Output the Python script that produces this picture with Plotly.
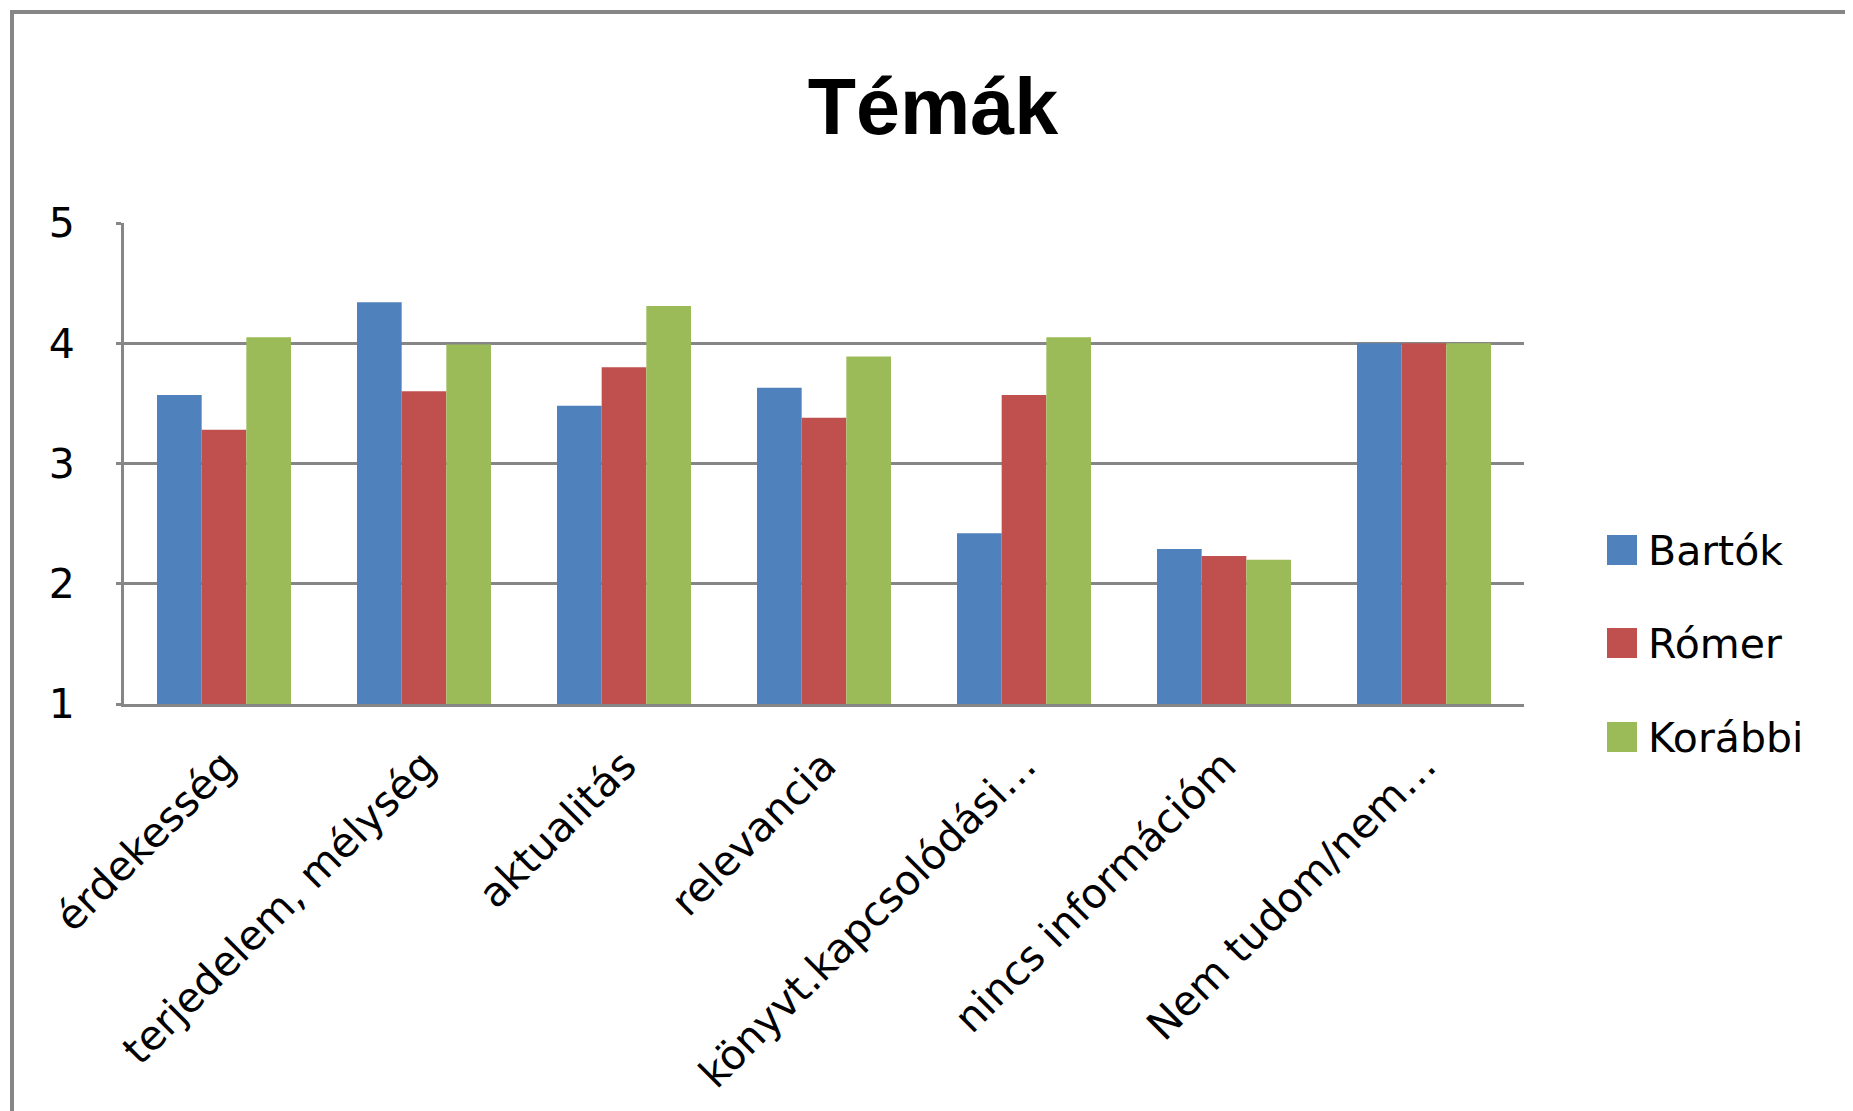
import plotly.graph_objects as go

categories = ["érdekesség", "terjedelem, mélység", "aktualitás", "relevancia",
              "könyvt.kapcsolódási…", "nincs információm", "Nem tudom/nem…"]
bartok = [3.57, 4.34, 3.48, 3.63, 2.42, 2.29, 4.0]
romer = [3.28, 3.60, 3.80, 3.38, 3.57, 2.23, 4.0]
korabbi = [4.05, 3.99, 4.31, 3.89, 4.05, 2.20, 4.0]

series_names = ["Bartók", "Rómer", "Korábbi"]
series_colors = ["#4F81BD", "#C0504D", "#9BBB59"]
y_ticks = [1, 2, 3, 4, 5]

W, H = 1853, 1111
OFF = 8  # page body margin
PLOT_L, PLOT_R, PLOT_T, PLOT_B = 124 - OFF, 1524 - OFF, 223 - OFF, 704 - OFF
GRID = "#868686"
LABEL_FONT = dict(family="DejaVu Sans", size=41, color="black")


def px_x(x):
    return (x - OFF - PLOT_L) / (PLOT_R - PLOT_L)


def px_y(y):
    return (PLOT_B - (y - OFF)) / (PLOT_B - PLOT_T)


fig = go.Figure()
for name, vals, color in zip(series_names, [bartok, romer, korabbi], series_colors):
    fig.add_trace(go.Bar(x=categories, y=vals, name=name, marker_color=color,
                         marker_line_width=0, showlegend=False, base=0))

# outer chart frame (only top and left edges are visible in the original)
shapes = [dict(type="rect", xref="paper", yref="paper",
               x0=px_x(12), x1=px_x(W + 60), y0=px_y(H + 60), y1=px_y(12),
               line=dict(color=GRID, width=4), fillcolor="rgba(0,0,0,0)", layer="below")]
annotations = []
# hand-made legend (large squares like the original)
legend_centers = [550, 643, 737]
for name, color, cy in zip(series_names, series_colors, legend_centers):
    shapes.append(dict(type="rect", xref="paper", yref="paper",
                       x0=px_x(1607), x1=px_x(1637), y0=px_y(cy + 15), y1=px_y(cy - 15),
                       fillcolor=color, line_width=0))
    annotations.append(dict(text=name, xref="paper", yref="paper", x=px_x(1646), y=px_y(cy + 1),
                            xanchor="left", yanchor="middle", showarrow=False, font=LABEL_FONT))

fig.update_layout(
    width=W, height=H,
    margin=dict(l=PLOT_L, r=W - PLOT_R, t=PLOT_T, b=H - PLOT_B, autoexpand=False),
    paper_bgcolor="white", plot_bgcolor="white",
    barmode="group", bargap=0.33, bargroupgap=0,
    title=dict(text="Témák", x=(933 - OFF) / W, xref="container", xanchor="center",
               y=1 - (106 - OFF) / H, yref="container", yanchor="middle",
               font=dict(family="Liberation Sans", size=79, color="black", weight="bold")),
    shapes=shapes, annotations=annotations,
    showlegend=False,
)
fig.update_yaxes(range=[1, 5], tickvals=y_ticks, showgrid=True, gridcolor=GRID, gridwidth=3,
                 showline=True, linecolor=GRID, linewidth=3, ticks="outside", ticklen=5,
                 tickcolor=GRID, tickwidth=3, tickfont=LABEL_FONT, ticklabelstandoff=33,
                 zeroline=False, fixedrange=True)
fig.update_xaxes(showline=True, linecolor=GRID, linewidth=3, tickangle=-45,
                 tickfont=LABEL_FONT, ticks="", showgrid=False, fixedrange=True,
                 ticklabelstandoff=18)

fig.write_html("out.html", config=dict(displayModeBar=False))
